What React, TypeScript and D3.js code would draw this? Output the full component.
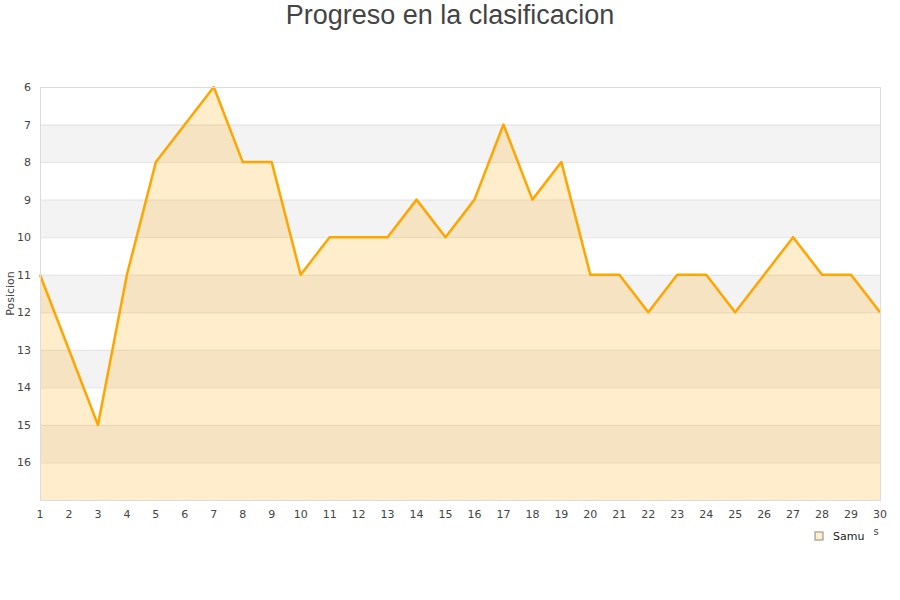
import { useEffect, useRef } from "react";
import * as d3 from "d3";

const jornadas = d3.range(1, 31);
const posiciones = [11, 13, 15, 11, 8, 7, 6, 8, 8, 11, 10, 10, 10, 9, 10, 9, 7, 9, 8, 11, 11, 12, 11, 11, 12, 11, 10, 11, 11, 12];
const yTicks = [6, 7, 8, 9, 10, 11, 12, 13, 14, 15, 16];
const bandStarts = [7, 9, 11, 13, 15];
const seriesName = "Samu";

function App() {
  const ref = useRef<SVGSVGElement>(null);

  useEffect(() => {
    if (!ref.current) return;
    const svg = d3.select(ref.current);
    svg.selectAll("*").remove();

    const margin = { top: 87, right: 20, bottom: 100, left: 40 };
    const width = 900 - margin.left - margin.right;
    const height = 600 - margin.top - margin.bottom;
    const font = "'DejaVu Sans', sans-serif";

    const x = d3.scaleLinear().domain([1, 30]).range([0, width]);
    const y = d3.scaleLinear().domain([6, 17]).range([0, height]);

    // title
    svg
      .append("text")
      .attr("x", 450)
      .attr("y", 24)
      .attr("text-anchor", "middle")
      .style("font-family", "'Liberation Sans', Arial, sans-serif")
      .style("font-size", "27px")
      .attr("fill", "#444")
      .text("Progreso en la clasificacion");

    const g = svg.append("g").attr("transform", `translate(${margin.left},${margin.top})`);

    // alternating bands
    g.selectAll("rect.band")
      .data(bandStarts)
      .enter()
      .append("rect")
      .attr("class", "band")
      .attr("x", 0)
      .attr("width", width)
      .attr("y", (d) => y(d))
      .attr("height", (d) => y(d + 1) - y(d))
      .attr("fill", "#f3f3f3");

    // grid lines
    g.selectAll("line.grid")
      .data(yTicks)
      .enter()
      .append("line")
      .attr("x1", 0)
      .attr("x2", width)
      .attr("y1", (d) => y(d) + 0.5)
      .attr("y2", (d) => y(d) + 0.5)
      .attr("stroke", "#e2e2e2");

    // area + line
    const area = d3
      .area<number>()
      .x((_, i) => x(jornadas[i]))
      .y0(height)
      .y1((d) => y(d));
    g.append("path")
      .datum(posiciones)
      .attr("d", area)
      .attr("fill", "rgba(255,165,0,0.2)");

    const line = d3
      .line<number>()
      .x((_, i) => x(jornadas[i]))
      .y((d) => y(d));
    g.append("path")
      .datum(posiciones)
      .attr("d", line)
      .attr("fill", "none")
      .attr("stroke", "#FFA500")
      .attr("stroke-width", 2.5)
      .attr("stroke-linejoin", "round");

    // frame
    g.append("rect")
      .attr("x", 0.5)
      .attr("y", 0.5)
      .attr("width", width)
      .attr("height", height)
      .attr("fill", "none")
      .attr("stroke", "#dcdcdc");

    // y tick labels
    g.selectAll("text.ytick")
      .data(yTicks)
      .enter()
      .append("text")
      .attr("x", -9)
      .attr("y", (d) => y(d) + 4)
      .attr("text-anchor", "end")
      .style("font-family", font)
      .style("font-size", "11px")
      .attr("fill", "#444")
      .text((d) => d);

    // x tick labels
    g.selectAll("text.xtick")
      .data(jornadas)
      .enter()
      .append("text")
      .attr("x", (d) => x(d))
      .attr("y", height + 18)
      .attr("text-anchor", "middle")
      .style("font-family", font)
      .style("font-size", "11px")
      .attr("fill", "#444")
      .text((d) => d);

    // y axis title
    svg
      .append("text")
      .attr("transform", `translate(14,${margin.top + y(11.5)}) rotate(-90)`)
      .attr("text-anchor", "middle")
      .style("font-family", font)
      .style("font-size", "11px")
      .attr("fill", "#444")
      .text("Posicion");

    // clipped x axis title remnant
    svg
      .append("text")
      .attr("x", 876)
      .attr("y", 535)
      .attr("text-anchor", "middle")
      .style("font-family", font)
      .style("font-size", "10px")
      .attr("fill", "#444")
      .text("s");

    // legend
    const leg = svg.append("g").attr("transform", "translate(815,532)");
    leg
      .append("rect")
      .attr("width", 8)
      .attr("height", 8)
      .attr("fill", "rgba(255,165,0,0.2)")
      .attr("stroke", "#888");
    leg
      .append("text")
      .attr("x", 18)
      .attr("y", 8)
      .style("font-family", font)
      .style("font-size", "11px")
      .attr("fill", "#222")
      .text(seriesName);
  }, []);

  return (
    <svg
      ref={ref}
      width={900}
      height={600}
      style={{ position: "absolute", left: 0, top: 0, background: "#fff" }}
    />
  );
}

export default App;
